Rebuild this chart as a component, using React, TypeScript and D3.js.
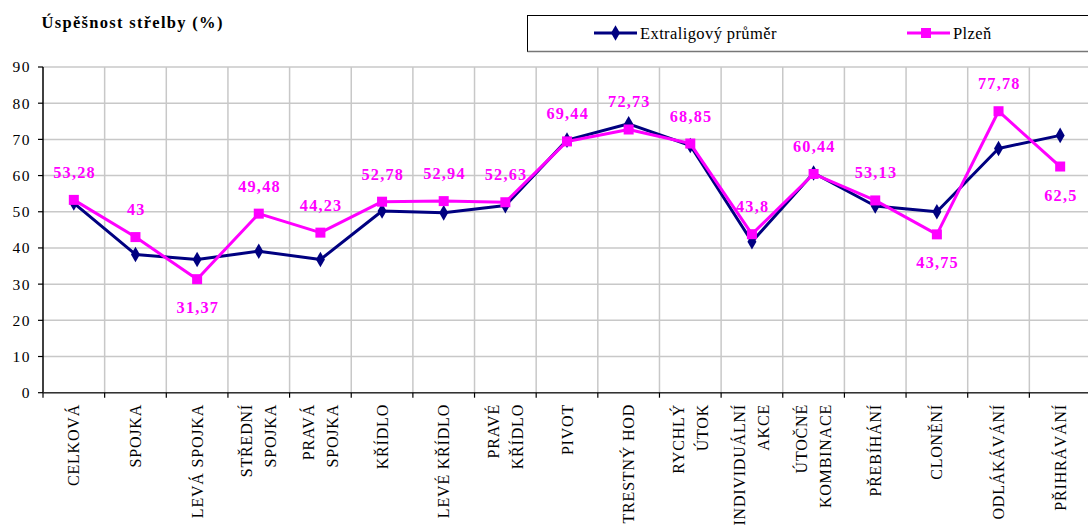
import React from "react";
import * as d3 from "d3";

const categories: string[][] = [
  ["CELKOVÁ"],
  ["SPOJKA"],
  ["LEVÁ SPOJKA"],
  ["STŘEDNÍ", "SPOJKA"],
  ["PRAVÁ", "SPOJKA"],
  ["KŘÍDLO"],
  ["LEVÉ KŘÍDLO"],
  ["PRAVÉ", "KŘÍDLO"],
  ["PIVOT"],
  ["TRESTNÝ HOD"],
  ["RYCHLÝ", "ÚTOK"],
  ["INDIVIDUÁLNÍ", "AKCE"],
  ["ÚTOČNÉ", "KOMBINACE"],
  ["PŘEBÍHÁNÍ"],
  ["CLONĚNÍ"],
  ["ODLÁKÁVÁNÍ"],
  ["PŘIHRÁVÁNÍ"],
];

const extraliga: number[] = [52.4, 38.2, 36.8, 39.1, 36.8, 50.2, 49.7, 51.7, 69.8, 74.3, 68.3, 41.7, 60.7, 51.6, 50.0, 67.5, 71.1];
const plzen: number[] = [53.28, 43, 31.37, 49.48, 44.23, 52.78, 52.94, 52.63, 69.44, 72.73, 68.85, 43.8, 60.44, 53.13, 43.75, 77.78, 62.5];
const plzenLabels: string[] = ["53,28", "43", "31,37", "49,48", "44,23", "52,78", "52,94", "52,63", "69,44", "72,73", "68,85", "43,8", "60,44", "53,13", "43,75", "77,78", "62,5"];
const labelBelow: boolean[] = [false, false, true, false, false, false, false, false, false, false, false, false, false, false, true, false, true];
const yTicks: number[] = [0, 10, 20, 30, 40, 50, 60, 70, 80, 90];
const seriesNames: string[] = ["Extraligový průměr", "Plzeň"];

const W = 1088;
const H = 531;
const NAVY = "#000080";
const PINK = "#ff00ff";
const FONT = "Liberation Serif";

export default function App() {
  const left = 43;
  const right = 1091;
  const top = 67;
  const bottom = 392.7;

  const idx = categories.map((_, i) => String(i));
  const x = d3.scaleBand<string>().domain(idx).range([left, right]);
  const y = d3.scaleLinear().domain([0, 90]).range([bottom, top]);
  const cx = (i: number) => (x(String(i)) as number) + x.bandwidth() / 2;

  const line = d3
    .line<number>()
    .x((_, i) => cx(i))
    .y((d) => y(d));

  const boundaries = d3.range(categories.length + 1).map((i) => left + i * x.bandwidth());
  const diamond = d3.symbol().type(d3.symbolDiamond).size(70)() as string;
  const ts: React.CSSProperties = { fontFamily: FONT };

  return (
    <svg width={W} height={H} style={{ position: "fixed", left: 0, top: 0, background: "#fff" }}>
      <rect x={0} y={0} width={W} height={H} fill="#fff" />
      {/* title */}
      <text x={41.5} y={27.7} fontSize={16.5} fontWeight="bold" fill="#000" letterSpacing={1.3} style={ts}>
        Úspěšnost střelby (%)
      </text>

      {/* legend */}
      <rect x={527.5} y={15.5} width={580} height={36} fill="#fff" stroke="#000" strokeWidth={1} />
      <line x1={527.5} x2={1088} y1={51.5} y2={51.5} stroke="#777" strokeWidth={1.5} />
      <line x1={594} x2={637} y1={33} y2={33} stroke={NAVY} strokeWidth={3} />
      <path d={diamond} transform="translate(615.5,33)" fill={NAVY} />
      <text x={640} y={38.5} fontSize={16.5} fill="#000" letterSpacing={0.4} style={ts}>
        {seriesNames[0]}
      </text>
      <line x1={907} x2={950} y1={33} y2={33} stroke={PINK} strokeWidth={3} />
      <rect x={921} y={28} width={10} height={10} fill={PINK} />
      <text x={953} y={38.5} fontSize={16.5} fill="#000" letterSpacing={0.4} style={ts}>
        {seriesNames[1]}
      </text>

      {/* grid */}
      {yTicks.map((t) => (
        <line key={"h" + t} x1={left} x2={right} y1={y(t)} y2={y(t)} stroke="#c8c8c8" strokeWidth={1.5} />
      ))}
      {boundaries.slice(1).map((b, i) => (
        <line key={"v" + i} x1={b} x2={b} y1={top} y2={bottom} stroke="#c8c8c8" strokeWidth={1.5} />
      ))}

      {/* axes */}
      <line x1={left} x2={left} y1={top} y2={bottom} stroke="#000" strokeWidth={1.5} />
      <line x1={left} x2={right} y1={bottom} y2={bottom} stroke="#333" strokeWidth={1.5} />
      {yTicks.map((t) => (
        <g key={"yt" + t}>
          <line x1={left - 5} x2={left} y1={y(t)} y2={y(t)} stroke="#000" strokeWidth={1.2} />
          <text x={31} y={y(t)} dy="0.35em" textAnchor="end" fontSize={15.5} letterSpacing={1.5} fill="#000" style={ts}>
            {t}
          </text>
        </g>
      ))}
      {boundaries.map((b, i) => (
        <line key={"xt" + i} x1={b} x2={b} y1={bottom} y2={bottom + 5} stroke="#000" strokeWidth={1.2} />
      ))}
      {categories.map((lines, i) => (
        <g key={"cl" + i}>
          {lines.map((s, j) => {
            const off = (j - (lines.length - 1) / 2) * 24;
            const tx = cx(i) + off + 5.5;
            return (
              <text
                key={j}
                transform={`translate(${tx},${404}) rotate(-90)`}
                textAnchor="end"
                fontSize={16}
                letterSpacing={0.8}
                fill="#000"
                style={ts}
              >
                {s}
              </text>
            );
          })}
        </g>
      ))}

      {/* series */}
      <path d={line(extraliga) as string} fill="none" stroke={NAVY} strokeWidth={3} strokeLinejoin="round" />
      {extraliga.map((v, i) => (
        <path key={"d" + i} d={diamond} transform={`translate(${cx(i)},${y(v)})`} fill={NAVY} />
      ))}
      <path d={line(plzen) as string} fill="none" stroke={PINK} strokeWidth={3} strokeLinejoin="round" />
      {plzen.map((v, i) => (
        <rect key={"s" + i} x={cx(i) - 5} y={y(v) - 5} width={10} height={10} fill={PINK} />
      ))}
      {plzen.map((v, i) => (
        <text
          key={"l" + i}
          x={cx(i) + 0.75}
          y={labelBelow[i] ? y(v) + 34 : y(v) - 22}
          textAnchor="middle"
          fontSize={16.3}
          letterSpacing={1.2}
          fontWeight="bold"
          fill={PINK}
          style={ts}
        >
          {plzenLabels[i]}
        </text>
      ))}
    </svg>
  );
}
